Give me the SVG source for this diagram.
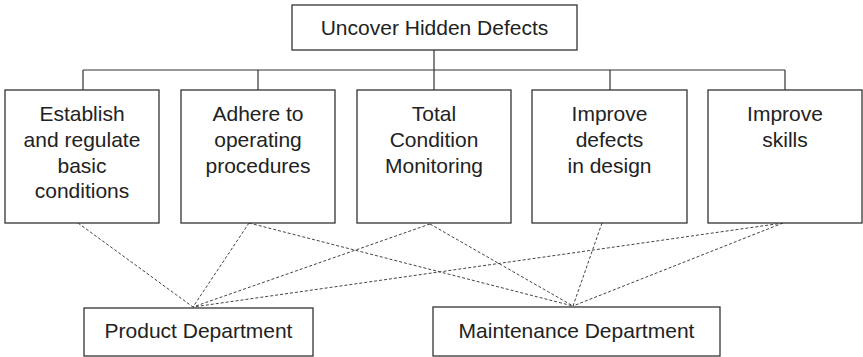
<svg xmlns="http://www.w3.org/2000/svg" width="863" height="357" viewBox="0 0 863 357">
<style>
.box{fill:#fff;stroke:#333;stroke-width:1.3}
.t{font-family:"Liberation Sans",Arial,sans-serif;font-size:21px;fill:#222;text-anchor:middle}
.ln{fill:none;stroke:#333;stroke-width:1.2}
.d{fill:none;stroke:#444;stroke-width:1;stroke-dasharray:3 2}
</style>
<rect width="863" height="357" fill="#fff"/>
<g id="connectors">
<path class="ln" d="M434 50V90M83 70H785M83 70V90M258 70V90M610 70V90M785 70V90"/>
<path class="d" d="M78 223L193 307M249 223L193 307M430 224L193 307M783 223L193 307M249 223L573 306M430 224L573 306M602 223L573 306M783 223L573 306"/>
</g>
<g id="n0"><rect class="box" x="292" y="5" width="285" height="45"/><text class="t" x="434.5" y="35">Uncover Hidden Defects</text></g>
<g id="n1"><rect class="box" x="5" y="90" width="154" height="133"/><text class="t" x="82" y="121">Establish</text><text class="t" x="82" y="147">and regulate</text><text class="t" x="82" y="173">basic</text><text class="t" x="82" y="198">conditions</text></g>
<g id="n2"><rect class="box" x="181" y="90" width="154" height="133"/><text class="t" x="258" y="121">Adhere to</text><text class="t" x="258" y="147">operating</text><text class="t" x="258" y="173">procedures</text></g>
<g id="n3"><rect class="box" x="357" y="90" width="154" height="133"/><text class="t" x="434" y="121">Total</text><text class="t" x="434" y="147">Condition</text><text class="t" x="434" y="173">Monitoring</text></g>
<g id="n4"><rect class="box" x="532" y="90" width="155" height="133"/><text class="t" x="609.5" y="121">Improve</text><text class="t" x="609.5" y="147">defects</text><text class="t" x="609.5" y="173">in design</text></g>
<g id="n5"><rect class="box" x="708" y="90" width="154" height="133"/><text class="t" x="785" y="121">Improve</text><text class="t" x="785" y="147">skills</text></g>
<g id="n6"><rect class="box" x="84" y="308" width="229" height="48"/><text class="t" x="198.5" y="338">Product Department</text></g>
<g id="n7"><rect class="box" x="433" y="307" width="287" height="49"/><text class="t" x="576.5" y="338">Maintenance Department</text></g>
</svg>
